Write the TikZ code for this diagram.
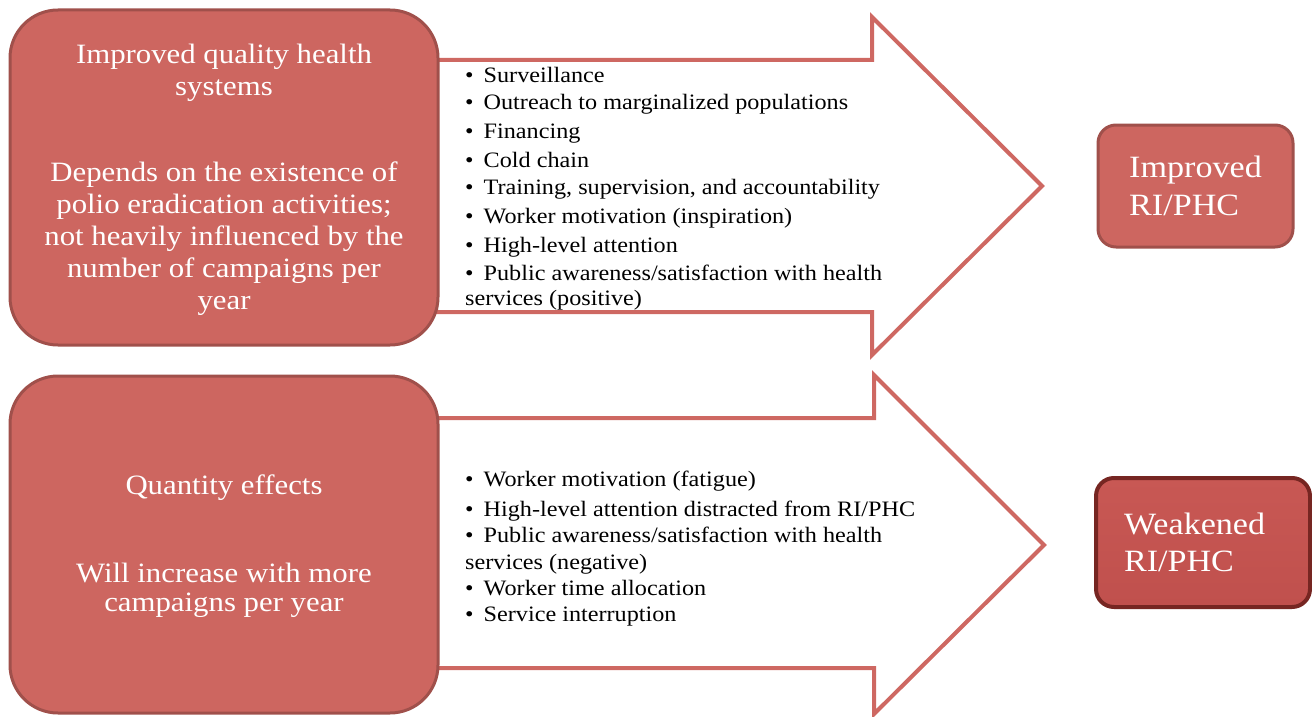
\documentclass[tikz,border=0pt]{standalone}
\usepackage{fontspec}
\setmainfont{Liberation Serif}[FakeStretch=1.1]
\begin{document}
\begin{tikzpicture}[x=1pt,y=-1pt]
\definecolor{boxfill}{RGB}{205,102,96}
\definecolor{boxline}{RGB}{160,80,75}
\definecolor{arrowline}{RGB}{206,104,98}
\definecolor{weakfill}{RGB}{192,80,77}
\definecolor{weaktop}{RGB}{200,88,84}
\definecolor{weakline}{RGB}{118,38,34}
\tikzset{
  bigarrow/.style={draw=arrowline, line width=4pt, fill=white, line join=miter},
  causebox/.style={draw=boxline, fill=boxfill, line width=3pt, rounded corners=48pt, inner sep=0pt},
  causetext/.style={text=white, align=center, inner sep=0pt, font=\fontsize{28}{32}\selectfont},
  resultbox/.style={draw=boxline, fill=boxfill, line width=3pt, rounded corners=18pt,
    text=white, align=left, inner sep=0pt, font=\fontsize{31}{38}\selectfont},
  weakbox/.style={resultbox, draw=weakline, top color=weaktop, bottom color=weakfill, line width=4pt},
  listline/.style={anchor=base west, inner sep=0pt, text=black, font=\fontsize{22}{28}\selectfont},
}
\useasboundingbox (0,0) rectangle (1312,717);
% arrows
\draw[bigarrow] (436,60) -- (872,60) -- (872,17) -- (1042,186) -- (872,355) -- (872,312) -- (436,312) -- cycle;
\draw[bigarrow] (436,418) -- (874,418) -- (874,375) -- (1044,545) -- (874,714) -- (874,668) -- (436,668) -- cycle;
% left boxes
\node[causebox, minimum width=428, minimum height=335] (quality) at (224,177.5) {};
\node[causetext] (qualitytext) at ([yshift=-2pt]quality.center)
  {Improved quality health\\systems\\[54pt]Depends on the existence of\\polio eradication activities;\\not heavily influenced by the\\number of campaigns per\\year};
\node[causebox, minimum width=428, minimum height=337] (quantity) at (224,544.5) {};
\node[causetext, font=\fontsize{28}{29}\selectfont] (quantitytext) at ([yshift=-2pt]quantity.center)
  {Quantity effects\\[59pt]Will increase with more\\campaigns per year};
% right boxes
\node[resultbox, minimum width=195, minimum height=122] (improved) at (1195.5,186)
  {Improved\\RI/PHC};
\node[weakbox, minimum width=214, minimum height=129, text width=150] (weakened) at (1203,542.5)
  {\hspace*{-4pt}Weakened\\[-1pt]\hspace*{-4pt}RI/PHC};
% top list
\newcommand{\bl}{\textbullet\hspace{10pt}}
\node[listline] (q1) at (465,82) {\bl Surveillance};
\node[listline] (q2) at (465,109) {\bl Outreach to marginalized populations};
\node[listline] (q3) at (465,138) {\bl Financing};
\node[listline] (q4) at (465,167) {\bl Cold chain};
\node[listline] (q5) at (465,194) {\bl Training, supervision, and accountability};
\node[listline] (q6) at (465,223) {\bl Worker motivation (inspiration)};
\node[listline] (q7) at (465,252) {\bl High-level attention};
\node[listline] (q8) at (465,280) {\bl Public awareness/satisfaction with health};
\node[listline] (q9) at (465,305) {services (positive)};
% bottom list
\node[listline] (n1) at (465,486) {\bl Worker motivation (fatigue)};
\node[listline] (n2) at (465,516) {\bl High-level attention distracted from RI/PHC};
\node[listline] (n3) at (465,542) {\bl Public awareness/satisfaction with health};
\node[listline] (n4) at (465,569) {services (negative)};
\node[listline] (n5) at (465,595) {\bl Worker time allocation};
\node[listline] (n6) at (465,621) {\bl Service interruption};
\end{tikzpicture}
\end{document}
